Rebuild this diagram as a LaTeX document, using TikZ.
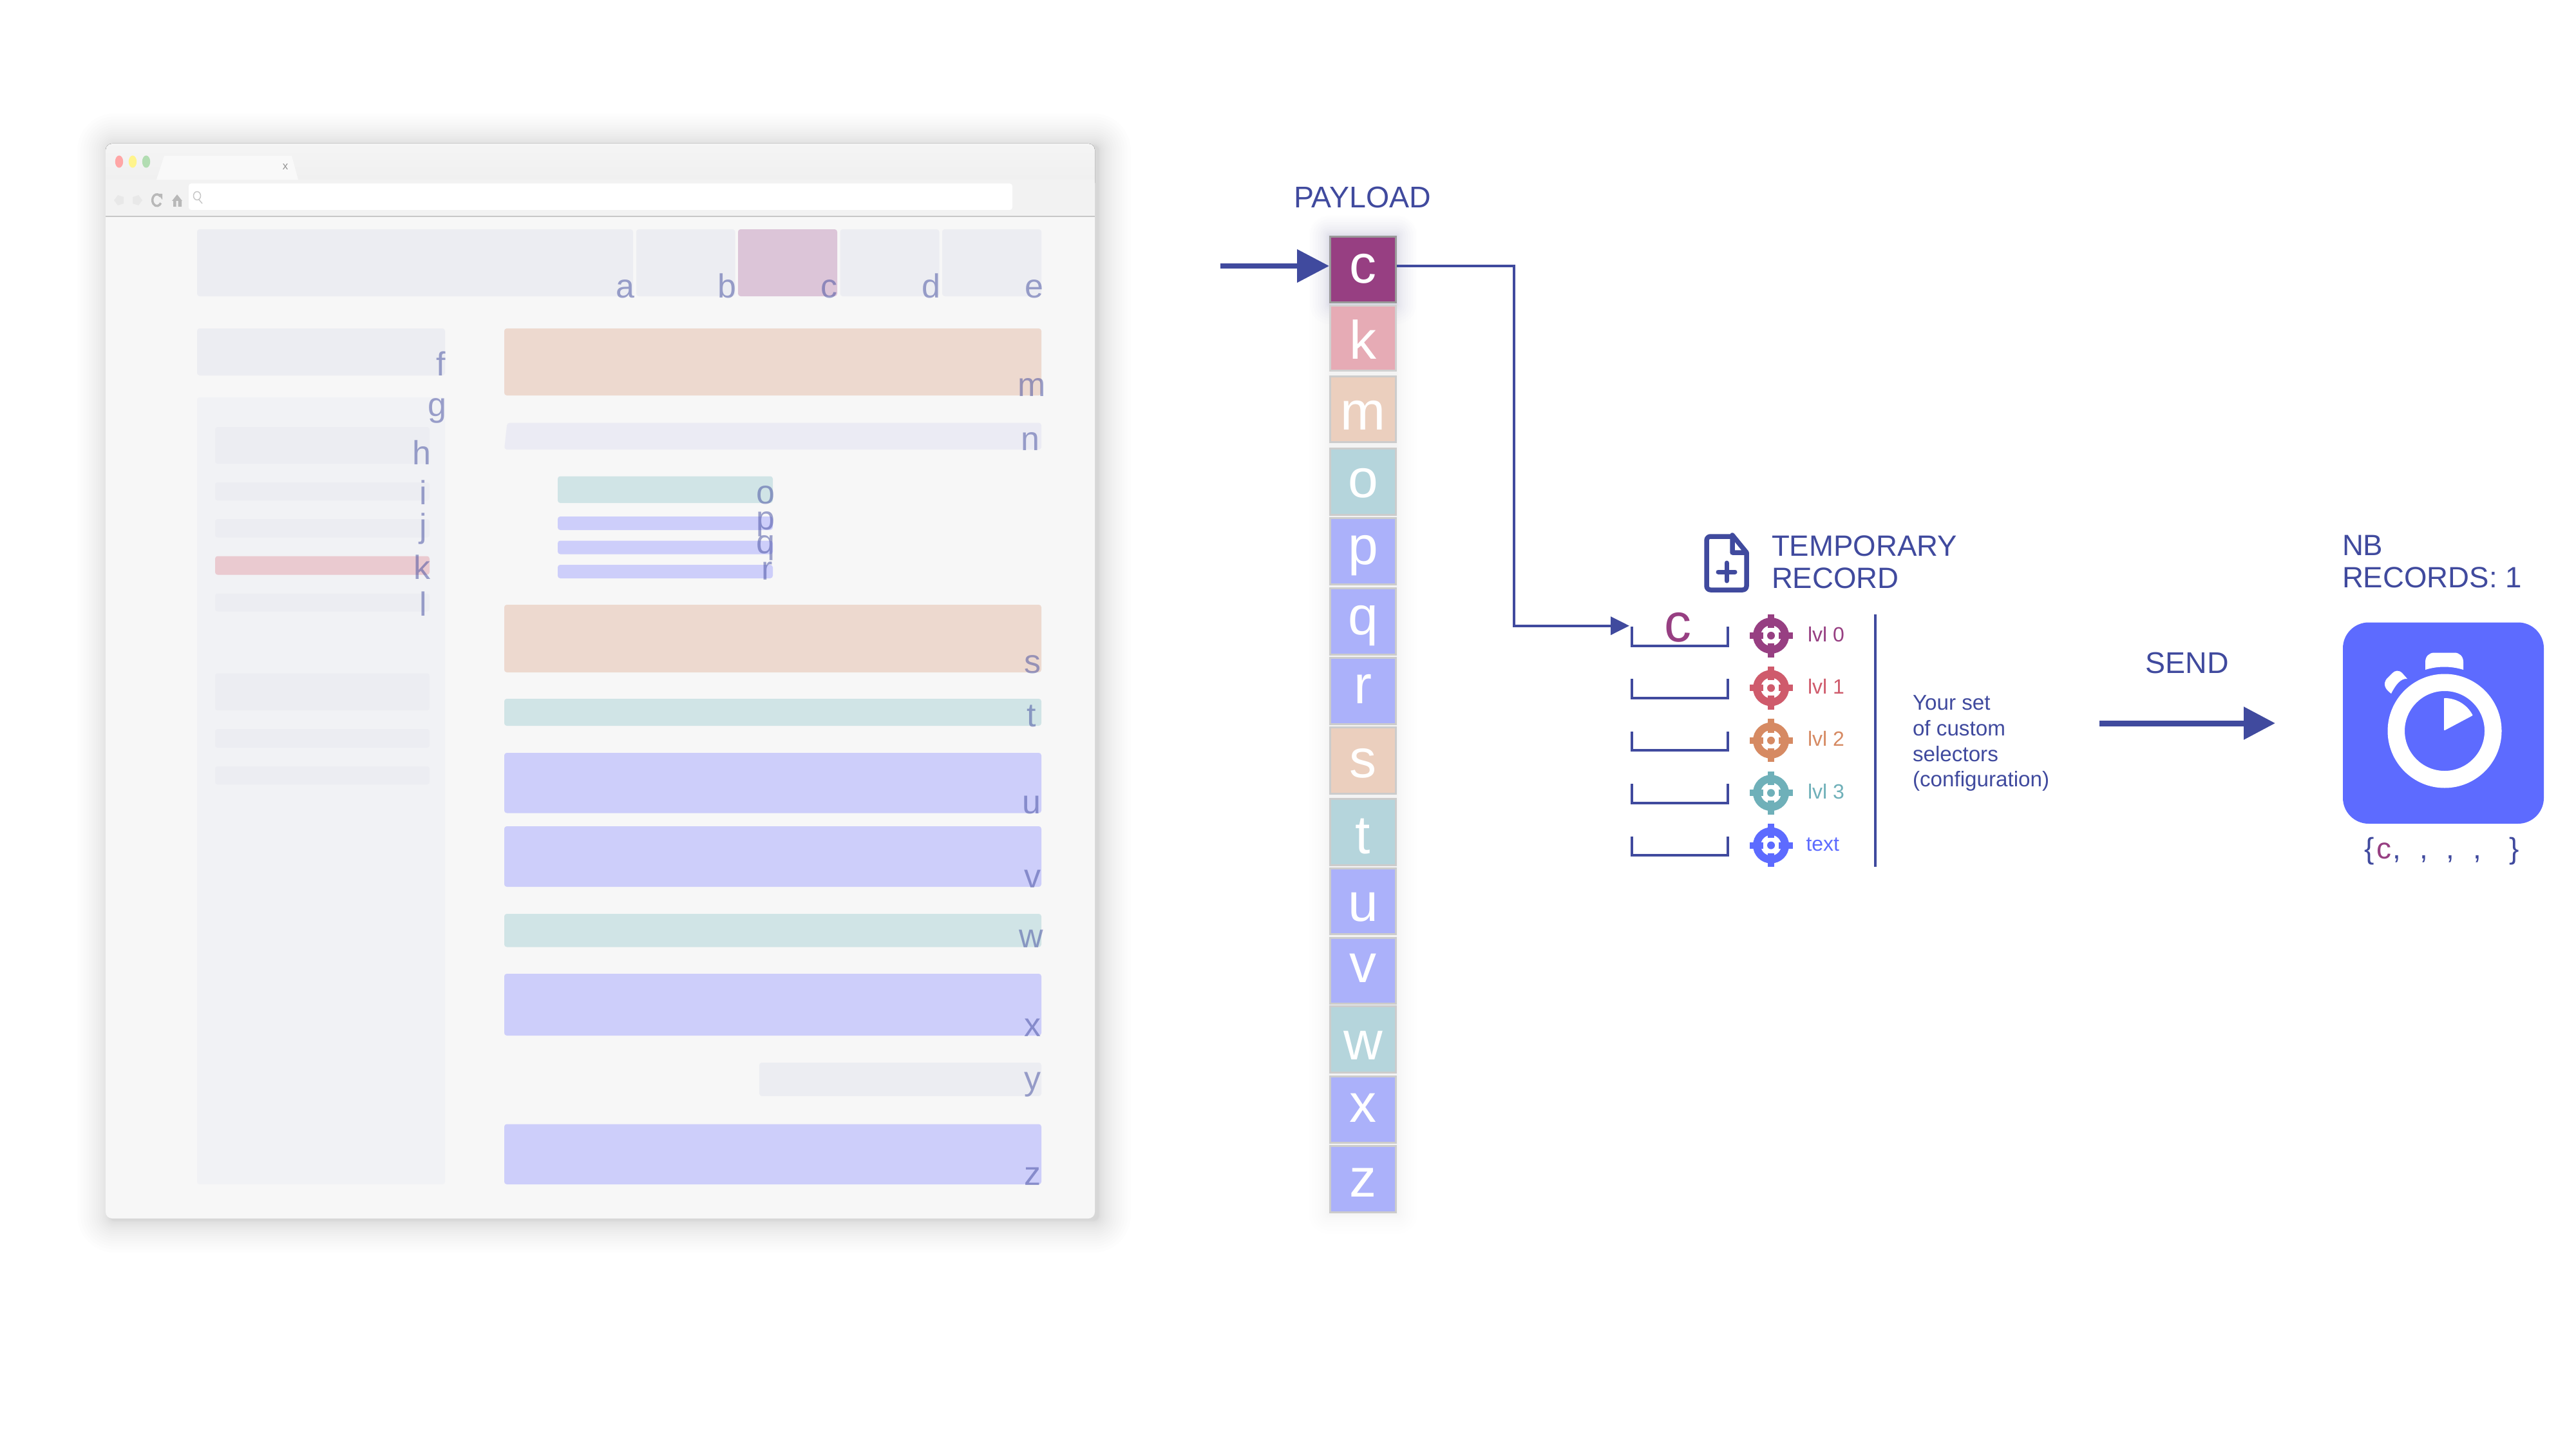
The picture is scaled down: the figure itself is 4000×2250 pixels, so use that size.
\documentclass[tikz,border=0pt]{standalone}
\usepackage{fontspec}
\setmainfont{Liberation Sans}
\usetikzlibrary{arrows.meta,calc}
\definecolor{ink}{HTML}{404A9E}
\definecolor{plum}{HTML}{973F82}
\definecolor{rosec}{HTML}{CF5B6C}
\definecolor{amber}{HTML}{D68A63}
\definecolor{tealc}{HTML}{6FB0B9}
\definecolor{bluec}{HTML}{5D6BFF}
\definecolor{rgrey}{HTML}{ECEDF2}
\definecolor{rside}{HTML}{F1F2F5}
\definecolor{rnbar}{HTML}{EBEBF4}
\definecolor{rplum}{HTML}{DCC5D8}
\definecolor{rrose}{HTML}{EACAD0}
\definecolor{rpeach}{HTML}{EDD9CF}
\definecolor{rteal}{HTML}{D0E4E6}
\definecolor{rblue}{HTML}{CDCEFA}
\definecolor{crose}{HTML}{E6ABB5}
\definecolor{cpeach}{HTML}{EBCFBE}
\definecolor{cteal}{HTML}{B5D5DC}
\definecolor{cblue}{HTML}{ABB1FA}
\newcommand{\fsz}[1]{\fontsize{#1}{#1}\selectfont}
\tikzset{
  lett/.style={inner sep=0pt,outer sep=0pt,anchor=base east,text=ink,text opacity=.5,font=\fsz{52}},
  celltext/.style={inner sep=0pt,outer sep=0pt,anchor=base,text=white,font=\fsz{84}},
  cellbox/.style={draw=#1,line width=3pt,inner sep=0pt,outer sep=1.5pt,minimum width=102pt},
  heading/.style={inner sep=0pt,outer sep=0pt,anchor=north west,align=left,text=ink,font=\fontsize{45.6}{50}\selectfont},
  oneline/.style={inner sep=0pt,outer sep=0pt,anchor=base west,text=ink,font=\fsz{46.5}},
  lvl/.style={inner sep=0pt,outer sep=0pt,anchor=base west,font=\fsz{32}},
  cfg/.style={inner sep=0pt,outer sep=0pt,anchor=north west,align=left,text=ink,font=\fontsize{33.2}{39.6}\selectfont},
  recpart/.style={inner sep=0pt,outer sep=0pt,anchor=base west,text=ink,font=\fsz{46}},
  bigflow/.style={draw=ink,line width=8pt,-{Triangle[length=50pt,width=50pt]}},
  sendflow/.style={draw=ink,line width=9pt,-{Triangle[length=49pt,width=49pt]}},
  thinflow/.style={draw=ink,line width=4pt,-{Triangle[length=29pt,width=28pt]}},
  slotline/.style={draw=ink,line width=4pt},
  region/.style={rounded corners=4pt}
}
\newcommand{\rgn}[5]{\fill[region,#5] (#1,#2) rectangle (#3,#4);}
\newcommand{\lettr}[4]{\node[lett] (#1) at (#2+2,#3+1.5) {#4};}
\newcommand{\stackcell}[7]{%
  \node[cellbox=#6,fill=#4,minimum height={(#3-#2-3)*1pt}] (cell#1) at (2116.5,{(#2+#3)/2}) {};
  \node[celltext] (txt#1) at (2116.5,#7) {#5};}
\newcommand{\target}[2]{%
  \fill[#2,even odd rule] (2750,#1) circle (28pt) (2750,#1) circle (16pt);
  \fill[#2] (2750,#1) circle (6pt);
  \fill[#2] (2745,#1-33.5) rectangle (2755,#1-12);
  \fill[#2] (2745,#1+12) rectangle (2755,#1+33.5);
  \fill[#2] (2750-33.5,#1-5) rectangle (2750-12,#1+5);
  \fill[#2] (2750+12,#1-5) rectangle (2750+33.5,#1+5);}
\newcommand{\slot}[1]{\draw[slotline] (2534,#1) -- (2534,#1+29.5) -- (2683,#1+29.5) -- (2683,#1);}
\begin{document}
\begin{tikzpicture}[x=1pt,y=-1pt]
\useasboundingbox (0,0) rectangle (4000,2250);
\fill[white] (0,0) rectangle (4000,2250);

% window shadow
\foreach \i in {20,19,...,1}{
  \pgfmathsetmacro{\e}{50*(\i/20)^2}
  \fill[black,opacity=.008,rounded corners={(8+\e)*1pt}] (170-\e,226-\e) rectangle (1706+\e,1895+\e);
}
% window
\fill[fill=white!97!black,rounded corners=10pt] (164,223) rectangle (1700,1892);
\fill[top color=white!96!black,bottom color=white!93.5!black,rounded corners=10pt] (164,223) rectangle (1700,279+15);
\fill[white!95!black] (164,279) rectangle (1700,336);
\draw[black!22,line width=2pt] (164,336) -- (1700,336);
% traffic lights
\fill[red!35!white] (185,251) ellipse (6.2pt and 9.5pt);
\fill[orange!20!yellow!45!white] (206,251) ellipse (6.2pt and 9.5pt);
\fill[green!55!black!30!white] (227,251) ellipse (6.2pt and 9.5pt);
% tab
\fill[white!97.5!black] (243,279) -- (255,242) -- (453,242) -- (463,279) -- cycle;
\node[inner sep=0pt,anchor=base,text=black!42,font=\fsz{17}] (tabx) at (443,264) {x};
% toolbar icons
\fill[black!9] (177,311) -- (183,303) -- (192,306) -- (192,316) -- (183,319) -- cycle;
\fill[black!9] (206,306) -- (215,303) -- (221,311) -- (215,319) -- (206,316) -- cycle;
\draw[black!28,line width=3.5pt] (249,305) arc[start angle=40,end angle=330,x radius=7pt,y radius=9pt];
\fill[black!28] (245,301) -- (252,301) -- (252,310) -- cycle;
\fill[black!28] (267,312) -- (275,302) -- (283,312) -- cycle;
\fill[black!28] (269,312) rectangle (273.5,321) (276.5,312) rectangle (282,321);
% address bar
\fill[white,rounded corners=4pt] (293,285) rectangle (1572,326);
\draw[black!22,line width=1.5pt] (306,304) ellipse (5.5pt and 6.5pt) (309,310) -- (314,316);

% regions
\rgn{306}{356}{983}{460}{rgrey}
\rgn{988}{356}{1141.5}{460}{rgrey}
\rgn{1146}{356}{1300}{460}{rplum}
\rgn{1304.5}{356}{1458.5}{460}{rgrey}
\rgn{1463}{356}{1617}{460}{rgrey}
\rgn{306}{510}{691}{583}{rgrey}
\rgn{306}{617}{691}{1839}{rside}
\rgn{334}{663}{667}{720}{rgrey}
\rgn{334}{749}{667}{777}{rgrey}
\rgn{334}{806}{667}{834.5}{rgrey}
\rgn{334}{863.5}{667}{892.5}{rrose}
\rgn{334}{921.5}{667}{949.5}{rgrey}
\rgn{334}{1045.5}{667}{1103}{rgrey}
\rgn{334}{1132}{667}{1161}{rgrey}
\rgn{334}{1190}{667}{1218}{rgrey}
\rgn{783}{510}{1617}{614}{rpeach}
\fill[region,rnbar] (783,698) -- (787.5,656.5) -- (1617,656.5) -- (1617,698) -- cycle;
\rgn{866}{739.5}{1200}{781}{rteal}
\rgn{866}{802}{1200}{823}{rblue}
\rgn{866}{839.5}{1200}{860.5}{rblue}
\rgn{866}{877}{1200}{898}{rblue}
\rgn{783}{939}{1617}{1044}{rpeach}
\rgn{783}{1085}{1617}{1127}{rteal}
\rgn{783}{1169}{1617}{1262.5}{rblue}
\rgn{783}{1283}{1617}{1377}{rblue}
\rgn{783}{1419}{1617}{1470.5}{rteal}
\rgn{783}{1512}{1617}{1608}{rblue}
\rgn{1179}{1650}{1617}{1702}{rgrey}
\rgn{783}{1745.5}{1617}{1839}{rblue}

% region letters
\lettr{la}{983}{461}{a}
\lettr{lb}{1141}{461}{b}
\lettr{lc}{1298}{461}{c}
\lettr{ld}{1458}{461}{d}
\lettr{le}{1618}{461}{e}
\lettr{lf}{690}{582}{f}
\lettr{lg}{691}{645}{g}
\lettr{lh}{667}{720}{h}
\lettr{li}{661}{782}{i}
\lettr{lj}{661}{833}{j}
\lettr{lk}{666}{898}{k}
\lettr{ll}{661}{955}{l}
\lettr{lm}{1622}{614}{m}
\lettr{ln}{1612}{698}{n}
\lettr{lo}{1201}{781}{o}
\lettr{lp}{1201}{821}{p}
\lettr{lq}{1201}{858}{q}
\lettr{lr}{1198}{899}{r}
\lettr{ls}{1614}{1044}{s}
\lettr{lt}{1607}{1127}{t}
\lettr{lu}{1614}{1262}{u}
\lettr{lv}{1614}{1377}{v}
\lettr{lw}{1618}{1470}{w}
\lettr{lx}{1614}{1608}{x}
\lettr{ly}{1614}{1691}{y}
\lettr{lz}{1614}{1839}{z}

% stack halo
\foreach \i in {12,11,...,1}{
  \pgfmathsetmacro{\e}{32*(\i/12)^2}
  \fill[ink,opacity=.005,rounded corners={\e*1pt}] (2064-\e,366-\e) rectangle (2169+\e,1884+\e);
}
\foreach \i in {12,11,...,1}{
  \pgfmathsetmacro{\e}{30*(\i/12)^2}
  \fill[ink,opacity=.006,rounded corners={\e*1pt}] (2064-\e,366-\e) rectangle (2169+\e,473+\e);
}

% payload stack
\node[oneline] (payload) at (2009,322.5) {PAYLOAD};
\stackcell{k}{473}{577}{crose}{k}{black!18}{557}
\stackcell{c}{366}{471}{plum}{c}{black!40}{439}
\stackcell{m}{583}{688}{cpeach}{m}{black!20}{667}
\stackcell{o}{695}{801}{cteal}{o}{black!20}{772}
\stackcell{p}{803}{909}{cblue}{p}{black!20}{876}
\stackcell{q}{912}{1018}{cblue}{q}{black!20}{985}
\stackcell{r}{1020}{1126}{cblue}{r}{black!20}{1092}
\stackcell{s}{1128}{1234}{cpeach}{s}{black!20}{1207}
\stackcell{t}{1239}{1344.5}{cteal}{t}{black!20}{1325}
\stackcell{u}{1347}{1452}{cblue}{u}{black!20}{1430}
\stackcell{v}{1455}{1559.5}{cblue}{v}{black!20}{1525}
\stackcell{w}{1561}{1667}{cteal}{w}{black!20}{1645.5}
\stackcell{x}{1670}{1776}{cblue}{x}{black!20}{1742}
\stackcell{z}{1778}{1884}{cblue}{z}{black!20}{1858}

% connectors
\coordinate (inA) at (1895,413);
\coordinate (bend) at (2351,700);
\coordinate (slotzero) at (2530,971.7);
\draw[bigflow] (inA) -- (inA -| cellc.west);
\draw[thinflow] (inA -| cellc.east) -| (bend) |- (slotzero);

% temporary record
\draw[ink,line width=7.5pt,line join=round,rounded corners=6pt] (2690,833) -- (2650,833) -- (2650,916) -- (2712,916) -- (2712,858);
\draw[ink,line width=7.5pt,line join=round] (2712,858) -- (2690,831) -- (2690,858) -- cycle;
\draw[ink,line width=7pt,line cap=round] (2681,874) -- (2681,902) (2668,888) -- (2694,888);
\node[heading] (temp) at (2751,831.5) {TEMPORARY\\RECORD};

% slots
\slot{973}
\slot{1054.4}
\slot{1135.8}
\slot{1217.2}
\slot{1298.6}
\node[inner sep=0pt,anchor=base,text=plum,font=\fsz{84}] (slotc) at (2605.5,996) {c};

% targets and levels
\target{987}{plum}
\target{1068.4}{rosec}
\target{1149.8}{amber}
\target{1231.2}{tealc}
\target{1312.6}{bluec}
\node[lvl,text=plum] (lvlzero) at (2807,996) {lvl 0};
\node[lvl,text=rosec] (lvlone) at (2807,1077.4) {lvl 1};
\node[lvl,text=amber] (lvltwo) at (2807,1158.8) {lvl 2};
\node[lvl,text=tealc] (lvlthree) at (2807,1240.2) {lvl 3};
\node[lvl,text=bluec] (lvltext) at (2804.5,1321) {text};
\coordinate (vtop) at (2912,954);
\coordinate (vbot) at (2912,1345.5);
\draw[ink,line width=4pt] (vtop) -- (vbot);
\node[cfg] (config) at (2970,1080) {Your set\\of custom\\selectors\\(configuration)};

% send
\node[oneline] (sendlabel) at (3331.5,1045) {SEND};
\coordinate (sendstart) at (3260,1123);
\coordinate (sendend) at (3533,1123);
\draw[sendflow] (sendstart) -- (sendend);

% records
\node[heading] (nbrec) at (3637,831.5) {NB\\RECORDS: 1};
\fill[bluec,rounded corners=40pt] (3638,966.5) rectangle (3950,1279);
\fill[white,even odd rule] (3796,1135) circle (88.5pt) (3796,1135) circle (62pt);
\fill[white,line join=round,draw=white,line width=2pt] (3796,1085) arc[start angle=90,end angle=28,radius=48pt] -- (3796,1133) -- cycle;
\fill[white] (3766,1040) -- (3766,1028) .. controls (3766,1019) and (3772,1013.5) .. (3780,1013.5) -- (3811,1013.5) .. controls (3819,1013.5) and (3825,1019) .. (3825,1028) -- (3825,1040) .. controls (3806,1034) and (3785,1034) .. (3766,1040) -- cycle;
\fill[white] (3713,1077) .. controls (3720,1063) and (3728,1053) .. (3738,1054) -- (3730,1045) .. controls (3725,1040) and (3719,1041) .. (3715,1045) -- (3706,1054) .. controls (3700,1062) and (3703,1070) .. (3713,1077) -- cycle;
\node[recpart] (bropen) at (3671,1333.5) {\{};
\node[recpart,text=plum] (recc) at (3690,1333.5) {c};
\node[recpart] (coma) at (3715,1333.5) {,};
\node[recpart] (comb) at (3757,1333.5) {,};
\node[recpart] (comc) at (3798,1333.5) {,};
\node[recpart] (comd) at (3840,1333.5) {,};
\node[recpart] (brclose) at (3896,1333.5) {\}};
\end{tikzpicture}
\end{document}
